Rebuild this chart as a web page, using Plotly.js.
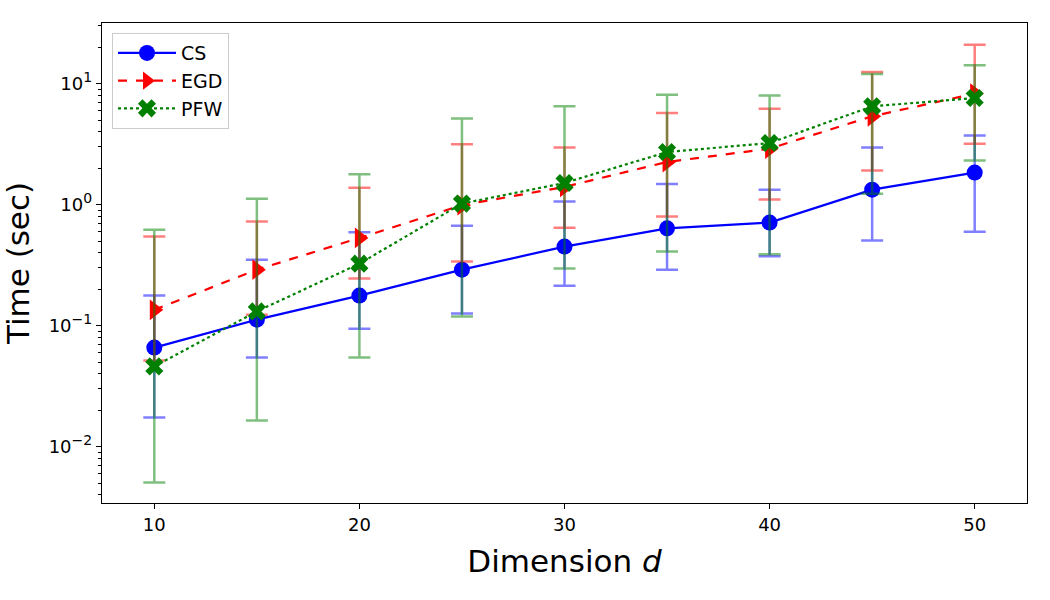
<!DOCTYPE html>
<html><head><meta charset="utf-8">
<script src="https://cdn.plot.ly/plotly-3.0.1.min.js"></script>
<style>body{margin:0;background:#fff}#chart{width:1050px;height:600px}</style>
</head><body><div id="chart"></div>
<script>
const dims = [10, 15, 20, 25, 30, 35, 40, 45, 50];

const csMean = [0.0658, 0.112, 0.177, 0.290, 0.450, 0.637, 0.710, 1.33, 1.84];
const csUpper = [0.177, 0.351, 0.590, 0.670, 1.06, 1.48, 1.33, 2.96, 3.72];
const csLower = [0.0174, 0.0544, 0.0944, 0.126, 0.214, 0.290, 0.374, 0.504, 0.598];

const egdMean = [0.135, 0.290, 0.530, 0.99, 1.40, 2.25, 2.90, 5.37, 8.27];
const egdUpper = [0.544, 0.724, 1.38, 3.15, 2.96, 5.71, 6.21, 12.5, 21.0];
const egdLower = [0.0514, 0.123, 0.245, 0.338, 0.645, 0.796, 1.10, 1.91, 3.19];

const pfwMean = [0.046, 0.131, 0.325, 1.02, 1.51, 2.72, 3.23, 6.49, 7.60];
const pfwUpper = [0.621, 1.12, 1.78, 5.14, 6.49, 8.11, 7.96, 12.0, 14.2];
const pfwLower = [0.00504, 0.0164, 0.0544, 0.119, 0.296, 0.409, 0.388, 1.23, 2.31];

const yTickVals = [0.01, 0.1, 1, 10];
const yTickExp = ['−2', '−1', '0', '1'];
const xTickVals = [10, 20, 30, 40, 50];

const yTickText = yTickExp.map(e => '10<sup><span style="font-size:14px">' + e + '</span></sup>');

const minorVals = [];
for (let e = -3; e <= 1; e++) for (let m = 2; m <= 9; m++) minorVals.push(m * Math.pow(10, e));

function mk(name, mean, up, lo, color, errColor, dash, symbol, size) {
  return {
    x: dims, y: mean, name: name, type: 'scatter', mode: 'lines+markers',
    line: {color: color, width: 2.2, dash: dash},
    marker: {color: color, symbol: symbol, size: size, line: {width: 0}},
    error_y: {type: 'data', symmetric: false,
      array: up.map((u, i) => u - mean[i]),
      arrayminus: lo.map((l, i) => mean[i] - l),
      color: errColor, thickness: 2.5, width: 11}
  };
}

const traces = [
  mk('CS', csMean, csUpper, csLower, '#0000ff', 'rgba(0,0,255,0.5)', 'solid', 'circle', 16),
  mk('EGD', egdMean, egdUpper, egdLower, '#ff0000', 'rgba(255,0,0,0.5)', 'dash', 'triangle-right', 18),
  mk('PFW', pfwMean, pfwUpper, pfwLower, '#008000', 'rgba(0,128,0,0.5)', 'dot', 'x', 16)
];

const layout = {
  width: 1050, height: 600,
  margin: {l: 102, r: 23, t: 23, b: 97},
  paper_bgcolor: '#fff', plot_bgcolor: '#fff',
  font: {family: 'DejaVu Sans', color: '#000'},
  showlegend: true,
  legend: {x: 0.0108, y: 0.979, xanchor: 'left', yanchor: 'top',
    bgcolor: 'rgba(255,255,255,0.8)', bordercolor: '#cccccc', borderwidth: 1,
    font: {size: 19, family: 'DejaVu Sans'}, tracegroupgap: 2, itemwidth: 58},
  xaxis: {
    range: [7.45, 52.55], tickvals: xTickVals, ticks: 'outside', ticklen: 5, tickwidth: 1,
    tickcolor: '#000', showgrid: false, zeroline: false, showline: true, linecolor: '#000',
    linewidth: 1.2, mirror: true, tickfont: {size: 18},
    title: {text: 'Dimension <i>d</i>', font: {size: 31}, standoff: 16}
  },
  yaxis: {
    type: 'log', range: [-2.466, 1.501], tickvals: yTickVals, ticktext: yTickText,
    ticks: 'outside', ticklen: 5, tickwidth: 1, tickcolor: '#000', showgrid: false,
    zeroline: false, showline: true, linecolor: '#000', linewidth: 1.2, mirror: true,
    tickfont: {size: 18},
    minor: {tickvals: minorVals, ticks: 'outside', ticklen: 3, tickcolor: '#000', showgrid: false},
    title: {text: 'Time (sec)', font: {size: 31}, standoff: 14}
  }
};

Plotly.newPlot('chart', traces, layout, {displayModeBar: false, staticPlot: true});
</script></body></html>
